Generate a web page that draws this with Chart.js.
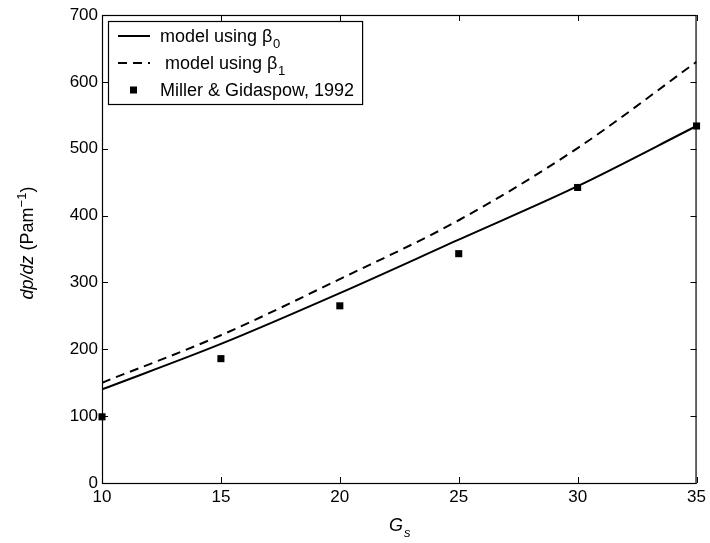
<!DOCTYPE html>
<html lang="en">
<head>
  <meta charset="UTF-8">
  <title>dp/dz vs Gs</title>
  <style>
    body { margin: 0; background: #fff; }
  </style>
</head>
<body>
  <div>
    <canvas id="canvas" width="710" height="543"></canvas>
  </div>
  <script src="https://cdn.jsdelivr.net/npm/chart.js"></script>
  <script type="application/javascript">
    const canvas = document.querySelector("canvas");

    // values
    const gs = [10, 15, 20, 25, 30, 35];
    const modelBeta0 = [140, 208, 284, 364, 444, 534];
    const modelBeta1 = [150, 221, 305, 393, 501, 630];
    const expGs = [10, 15, 20, 25, 30, 35];
    const expDp = [99, 186, 265, 343, 442, 534];

    const legendText = ['model using β', ' model using β', 'Miller & Gidaspow, 1992'];
    const legendSub = ['0', '1', ''];

    const toPts = (xs, ys) => xs.map((x, i) => ({ x: x, y: ys[i] }));
    const FONT = '"Liberation Sans", Arial, Helvetica, sans-serif';
    const FS = 18;

    // MATLAB-like box, inward ticks, legend and axis titles
    const matlabBox = {
      id: 'matlabBox',
      afterDraw(chart) {
        const ctx = chart.ctx;
        const a = chart.chartArea;
        const xs = chart.scales.x, ys = chart.scales.y;
        ctx.save();
        ctx.strokeStyle = '#000';
        ctx.lineWidth = 1.2;
        ctx.strokeRect(a.left + 0.5, a.top + 0.5, a.right - a.left - 1, a.bottom - a.top);
        ctx.lineWidth = 1;
        ctx.beginPath();
        xs.ticks.forEach(t => {
          const px = Math.round(xs.getPixelForValue(t.value)) + 0.5;
          ctx.moveTo(px, a.bottom); ctx.lineTo(px, a.bottom - 6);
          ctx.moveTo(px, a.top); ctx.lineTo(px, a.top + 6);
        });
        ys.ticks.forEach(t => {
          const py = Math.round(ys.getPixelForValue(t.value)) + 0.5;
          ctx.moveTo(a.left, py); ctx.lineTo(a.left + 6, py);
          ctx.moveTo(a.right, py); ctx.lineTo(a.right - 6, py);
        });
        ctx.stroke();

        // legend
        ctx.font = FS + 'px ' + FONT;
        const maxW = Math.max(...legendText.map(t => ctx.measureText(t).width));
        const lx = 108, ly = 21, lw = 160 - lx + maxW + 8, lh = 83;
        ctx.fillStyle = '#fff';
        ctx.fillRect(lx, ly, lw, lh);
        ctx.lineWidth = 1.2;
        ctx.strokeRect(lx + 0.5, ly + 0.5, lw, lh);
        ctx.fillStyle = '#000';
        ctx.textBaseline = 'alphabetic';
        chart.data.datasets.forEach((ds, i) => {
          const cy = 36 + i * 27;
          if (ds.showLine === false) {
            ctx.fillRect(130, cy - 3.5, 7, 7);
          } else {
            ctx.save();
            ctx.lineWidth = 2;
            ctx.setLineDash(ds.borderDash || []);
            ctx.beginPath();
            ctx.moveTo(118, cy); ctx.lineTo(150, cy);
            ctx.stroke();
            ctx.restore();
          }
          ctx.font = FS + 'px ' + FONT;
          ctx.fillText(legendText[i], 160, cy + 6);
          if (legendSub[i]) {
            const w = ctx.measureText(legendText[i]).width;
            ctx.font = '13px ' + FONT;
            ctx.fillText(legendSub[i], 160 + w + 0.5, cy + 12);
          }
        });

        // x title
        ctx.font = 'italic ' + FS + 'px ' + FONT;
        const gw = ctx.measureText('G').width;
        ctx.font = 'italic 13px ' + FONT;
        const sw = ctx.measureText('s').width;
        const xc = (a.left + a.right) / 2;
        let x0 = xc - (gw + sw) / 2;
        ctx.font = 'italic ' + FS + 'px ' + FONT;
        ctx.fillText('G', x0, 531);
        ctx.font = 'italic 13px ' + FONT;
        ctx.fillText('s', x0 + gw + 1, 537);

        // y title
        ctx.save();
        ctx.translate(33, (a.top + a.bottom) / 2 - 6);
        ctx.rotate(-Math.PI / 2);
        const parts = [
          ['dp/dz', 'italic ' + FS + 'px ', 0],
          [' (Pam', FS + 'px ', 0],
          ['\u22121', '13px ', -7],
          [')', FS + 'px ', 0]
        ];
        let total = 0;
        parts.forEach(p => { ctx.font = p[1] + FONT; total += ctx.measureText(p[0]).width; });
        let cx = -total / 2;
        parts.forEach(p => {
          ctx.font = p[1] + FONT;
          ctx.fillText(p[0], cx, p[2]);
          cx += ctx.measureText(p[0]).width;
        });
        ctx.restore();
        ctx.restore();
      }
    };

    const data = {
      datasets: [{
        label: 'model using β0',
        data: toPts(gs, modelBeta0),
        borderColor: '#000',
        borderWidth: 2,
        pointRadius: 0,
        cubicInterpolationMode: 'monotone',
        fill: false
      }, {
        label: 'model using β1',
        data: toPts(gs, modelBeta1),
        borderColor: '#000',
        borderWidth: 2,
        borderDash: [9, 6],
        pointRadius: 0,
        cubicInterpolationMode: 'monotone',
        fill: false
      }, {
        label: 'Miller & Gidaspow, 1992',
        data: toPts(expGs, expDp),
        showLine: false,
        pointStyle: 'rect',
        pointRadius: 5,
        backgroundColor: '#000',
        borderColor: '#000',
        borderWidth: 0,
        clip: false
      }]
    };

    const config = {
      type: 'line',
      data: data,
      options: {
        responsive: false,
        animation: false,
        layout: { padding: { top: 15, right: 13, left: 0, bottom: 0 } },
        plugins: { legend: { display: false }, tooltip: { enabled: false } },
        scales: {
          x: {
            type: 'linear',
            min: 10, max: 35,
            grid: { display: false, drawTicks: false },
            border: { display: false },
            ticks: { stepSize: 5, color: '#000', padding: 4, font: { size: 17, family: FONT }, maxRotation: 0 },
            afterFit: s => { s.height = 60; }
          },
          y: {
            min: 0, max: 700,
            grid: { display: false, drawTicks: false },
            border: { display: false },
            ticks: { stepSize: 100, color: '#000', padding: 4, font: { size: 17, family: FONT } },
            afterFit: s => { s.width = 102; }
          }
        }
      },
      plugins: [matlabBox]
    };
    let myChart = new Chart(canvas, config);
  </script>
</body>
</html>
